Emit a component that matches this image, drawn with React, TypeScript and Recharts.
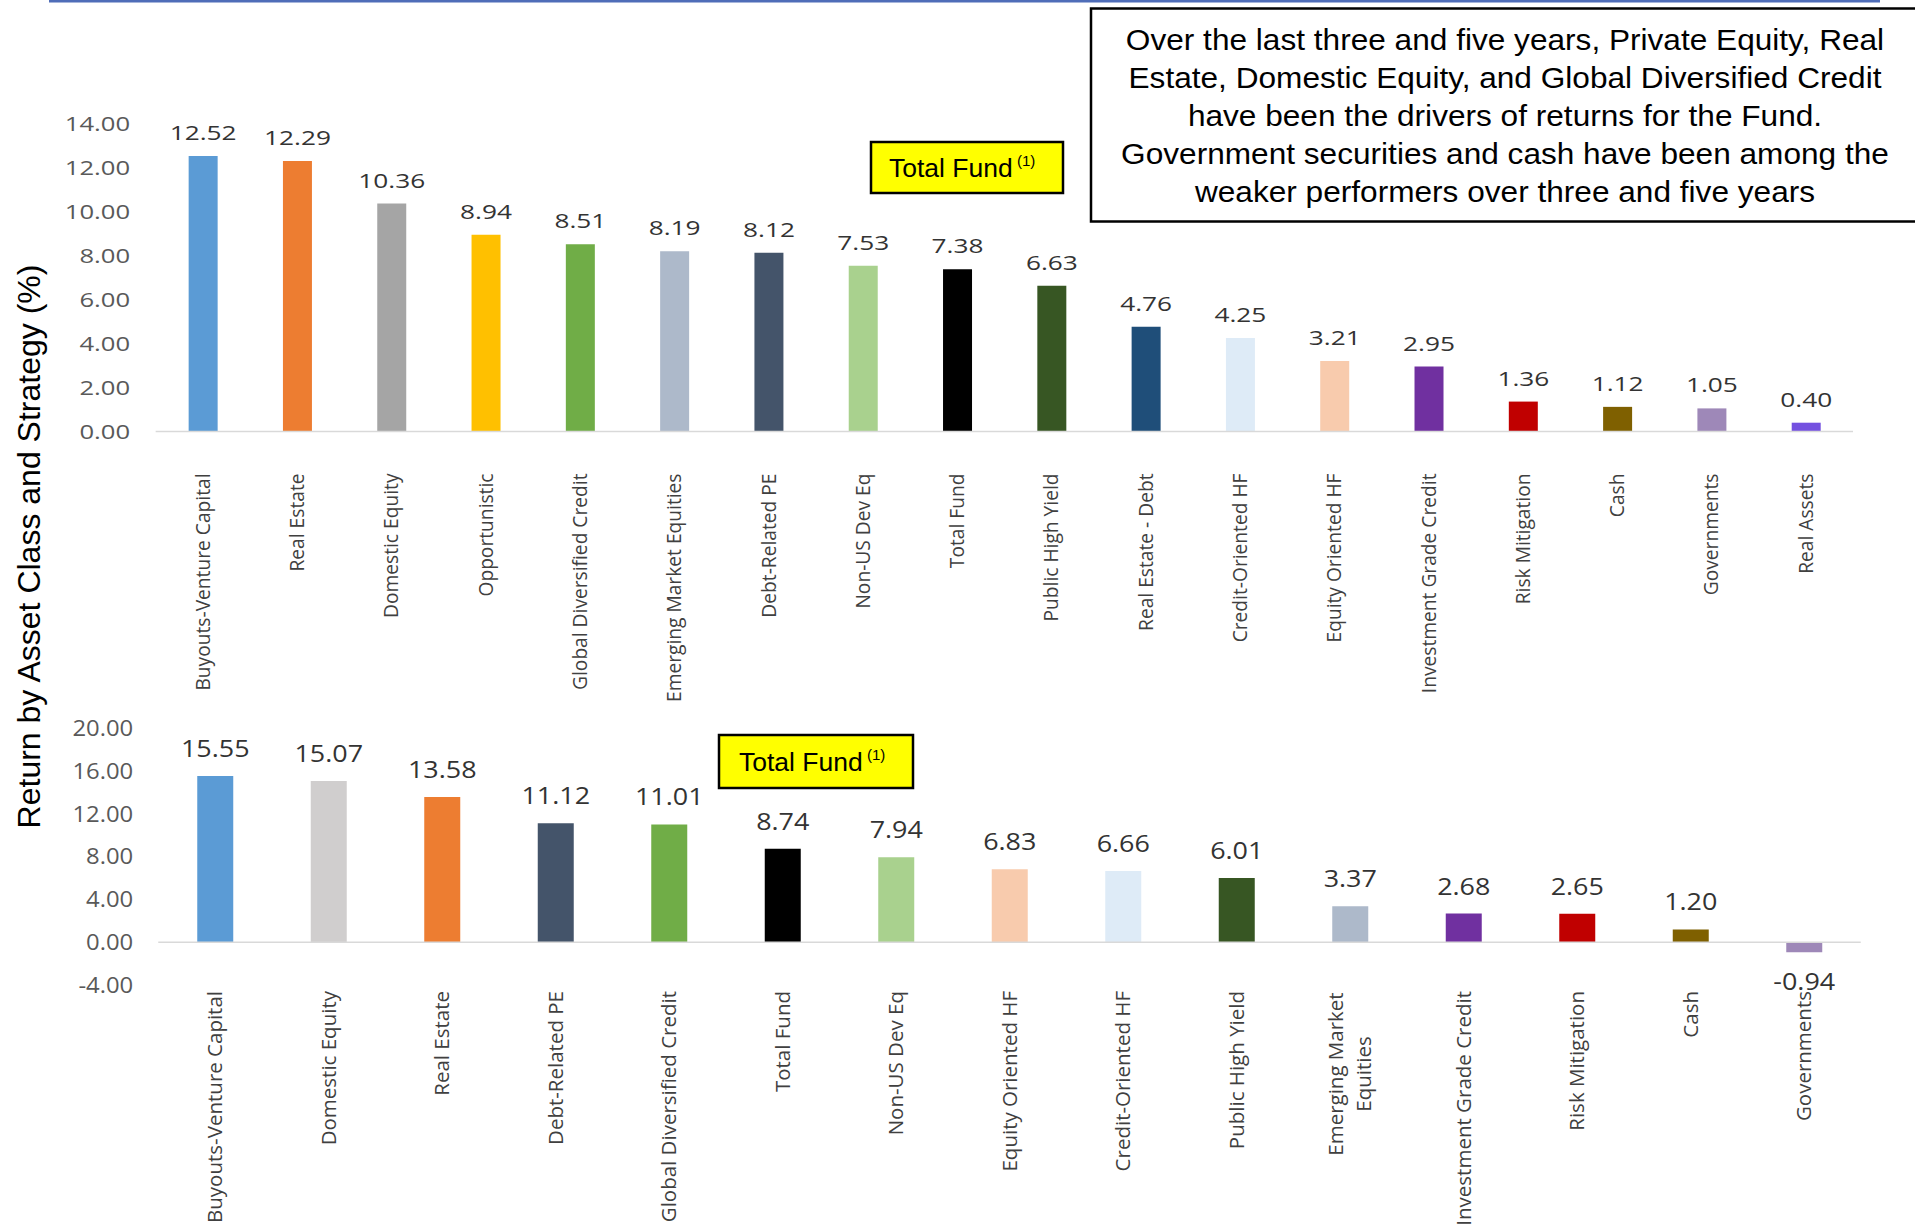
import React from "react";
import { BarChart, Bar, XAxis, YAxis, Cell, LabelList, ReferenceLine } from "recharts";

// three-year returns (top chart)
const threeYearNames = [
  "Buyouts-Venture Capital",
  "Real Estate",
  "Domestic Equity",
  "Opportunistic",
  "Global Diversified Credit",
  "Emerging Market Equities",
  "Debt-Related PE",
  "Non-US Dev Eq",
  "Total Fund",
  "Public High Yield",
  "Real Estate - Debt",
  "Credit-Oriented HF",
  "Equity Oriented HF",
  "Investment Grade Credit",
  "Risk Mitigation",
  "Cash",
  "Governments",
  "Real Assets",
];
const threeYearValues = [12.52, 12.29, 10.36, 8.94, 8.51, 8.19, 8.12, 7.53, 7.38, 6.63, 4.76, 4.25, 3.21, 2.95, 1.36, 1.12, 1.05, 0.4];
const threeYearColors = [
  "#5B9BD5", "#ED7D31", "#A5A5A5", "#FFC000", "#70AD47", "#ADB9CA", "#44546A", "#A9D18E", "#000000",
  "#375623", "#1F4E79", "#DEEBF7", "#F8CBAD", "#7030A0", "#C00000", "#7F6000", "#9E88B8", "#7451E0",
];
const threeYearTicks = [0, 2, 4, 6, 8, 10, 12, 14];

// five-year returns (bottom chart)
const fiveYearNames = [
  "Buyouts-Venture Capital",
  "Domestic Equity",
  "Real Estate",
  "Debt-Related PE",
  "Global Diversified Credit",
  "Total Fund",
  "Non-US Dev Eq",
  "Equity Oriented HF",
  "Credit-Oriented HF",
  "Public High Yield",
  "Emerging Market\nEquities",
  "Investment Grade Credit",
  "Risk Mitigation",
  "Cash",
  "Governments",
];
const fiveYearValues = [15.55, 15.07, 13.58, 11.12, 11.01, 8.74, 7.94, 6.83, 6.66, 6.01, 3.37, 2.68, 2.65, 1.2, -0.94];
const fiveYearColors = [
  "#5B9BD5", "#D0CECE", "#ED7D31", "#44546A", "#70AD47", "#000000", "#A9D18E", "#F8CBAD",
  "#DEEBF7", "#375623", "#ADB9CA", "#7030A0", "#C00000", "#7F6000", "#9E88B8",
];
const fiveYearTicks = [-4, 0, 4, 8, 12, 16, 20];

const noteLines = [
  "Over the last three and five years, Private Equity, Real",
  "Estate, Domestic Equity, and Global Diversified Credit",
  "have been the drivers of returns for the Fund.",
  "Government securities and cash have been among the",
  "weaker performers over three and five years",
];
const yTitle = "Return by Asset Class and Strategy (%)";

const threeYearData = threeYearNames.map((name, i) => ({ name, value: threeYearValues[i] }));
const fiveYearData = fiveYearNames.map((name, i) => ({ name, value: fiveYearValues[i] }));

const FONT = "Open Sans";

function NumTick(props: any) {
  const { x, y, payload, fs, stretch, dx } = props;
  return (
    <g transform={`translate(${x + dx},${y + fs * 0.36}) scale(${stretch},1)`}>
      <text textAnchor="end" fontSize={fs} fill="#595959" fontFamily={FONT}>
        {Number(payload.value).toFixed(2)}
      </text>
    </g>
  );
}

function CategoryTick(props: any) {
  const { x, y, payload, fs, offset, lh } = props;
  const lines = String(payload.value).split("\n");
  const n = lines.length;
  const longest = Math.max(...lines.map((l) => l.length));
  const anchorX = n > 1 ? -longest * fs * 0.27 : 0;
  return (
    <g transform={`translate(${x},${y + offset}) rotate(-90)`}>
      <text textAnchor={n > 1 ? "middle" : "end"} fontSize={fs} fill="#404040" fontFamily={FONT}>
        {lines.map((l, i) => (
          <tspan key={i} x={anchorX} y={fs * 0.36 + (i - (n - 1) / 2) * lh}>
            {l}
          </tspan>
        ))}
      </text>
    </g>
  );
}

const valueLabel = (fs: number, stretch: number, above: number, below: number) => (props: any) => {
  const { x, y, width, height, value } = props;
  const cx = Number(x) + Number(width) / 2;
  const top = Math.min(Number(y), Number(y) + Number(height));
  const bottom = Math.max(Number(y), Number(y) + Number(height));
  const v = Number(value);
  const by = v >= 0 ? top - above : bottom + below;
  return (
    <g transform={`translate(${cx},${by}) scale(${stretch},1)`}>
      <text textAnchor="middle" fontSize={fs} fill="#333333" fontFamily={FONT}>
        {v.toFixed(2)}
      </text>
    </g>
  );
};

export default function App() {
  return (
    <div style={{ position: "absolute", left: 0, top: 0, width: 1915, height: 1229, overflow: "hidden", background: "#ffffff" }}>
      <div style={{ position: "absolute", left: 0, top: 0 }}>
        <BarChart width={1915} height={1229} data={threeYearData} margin={{ top: 123.5, right: 62, bottom: 0, left: 0 }}>
          <XAxis
            dataKey="name"
            interval={0}
            height={797.5}
            axisLine={{ stroke: "#D9D9D9", strokeWidth: 1.5 }}
            tickLine={false}
            tick={(p: any) => <CategoryTick {...p} fs={19.2} offset={34} lh={26} />}
          />
          <YAxis
            width={155.65}
            domain={[0, 14]}
            ticks={threeYearTicks}
            axisLine={false}
            tickLine={false}
            tick={(p: any) => <NumTick {...p} fs={20.5} stretch={1.25} dx={-17.6} />}
          />
          <Bar dataKey="value" barSize={29} isAnimationActive={false}>
            {threeYearData.map((d, i) => (
              <Cell key={d.name} fill={threeYearColors[i]} />
            ))}
            <LabelList dataKey="value" content={valueLabel(20.5, 1.28, 16, 30)} />
          </Bar>
        </BarChart>
      </div>
      <div style={{ position: "absolute", left: 0, top: 0 }}>
        <BarChart width={1915} height={1229} data={fiveYearData} margin={{ top: 728.3, right: 54.25, bottom: 0, left: 0 }}>
          <XAxis
            dataKey="name"
            interval={0}
            height={244}
            axisLine={false}
            tickLine={false}
            tick={(p: any) => <CategoryTick {...p} fs={20.5} offset={-2} lh={28} />}
          />
          <YAxis
            width={158.25}
            domain={[-4, 20]}
            ticks={fiveYearTicks}
            axisLine={false}
            tickLine={false}
            tick={(p: any) => <NumTick {...p} fs={21.5} stretch={1.11} dx={-17} />}
          />
          <ReferenceLine y={0} stroke="#D9D9D9" strokeWidth={1.5} />
          <Bar dataKey="value" barSize={36} isAnimationActive={false}>
            {fiveYearData.map((d, i) => (
              <Cell key={d.name} fill={fiveYearColors[i]} />
            ))}
            <LabelList dataKey="value" content={valueLabel(23, 1.17, 19, 38)} />
          </Bar>
        </BarChart>
      </div>
      <svg
        width={1915}
        height={1229}
        style={{ position: "absolute", left: 0, top: 0, pointerEvents: "none" }}
        fontFamily="Liberation Sans, Arial, sans-serif"
      >
        <rect x={49} y={0} width={1831} height={2.5} fill="#4F6DB8" />
        <rect x={1091} y={8.5} width={840} height={213} fill="#ffffff" stroke="#000000" strokeWidth={2.5} />
        {noteLines.map((l, i) => (
          <g key={i} transform={`translate(1505,${50 + i * 38}) scale(1.09,1)`}>
            <text textAnchor="middle" fontSize={29} fill="#000000">
              {l}
            </text>
          </g>
        ))}
        <rect x={871} y={142} width={192} height={51} fill="#FFFF00" stroke="#000000" strokeWidth={2.5} />
        <text x={889} y={177} fontSize={26.5} fill="#000000">
          Total Fund
          <tspan fontSize={15} dy={-11}> (1)</tspan>
        </text>
        <rect x={719} y={735} width={194} height={53} fill="#FFFF00" stroke="#000000" strokeWidth={2.5} />
        <text x={739} y={771} fontSize={26.5} fill="#000000">
          Total Fund
          <tspan fontSize={15} dy={-11}> (1)</tspan>
        </text>
        <text transform="translate(40,546.5) rotate(-90)" textAnchor="middle" fontSize={32} fill="#000000">
          {yTitle}
        </text>
      </svg>
    </div>
  );
}
